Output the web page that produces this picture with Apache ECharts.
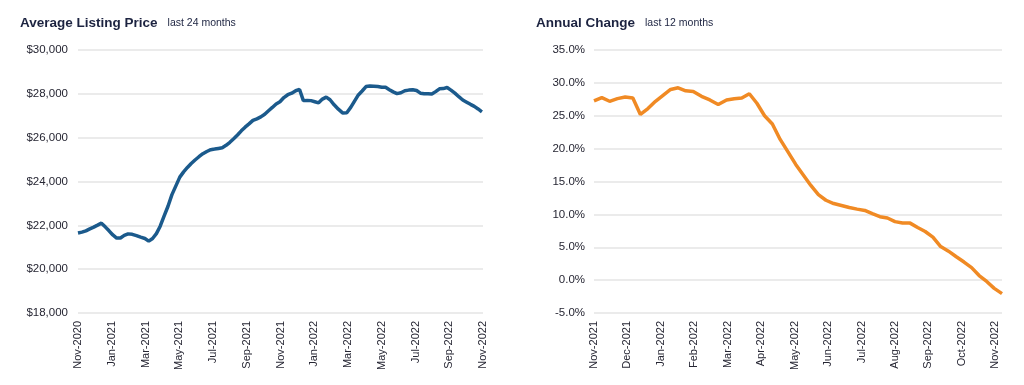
<!DOCTYPE html>
<html>
<head>
<meta charset="utf-8">
<script src="https://cdn.jsdelivr.net/npm/echarts@6/dist/echarts.min.js"></script>
<style>
html,body{margin:0;padding:0;background:#fff;}
#c{width:1024px;height:385px;}
</style>
</head>
<body>
<div id="c"></div>
<script>
// ---- data ----
const priceStart = '2020-11-01';   // weekly points
const priceValues = [
21650,21690,21750,21840,21920,22010,22100,21930,21750,21560,
21420,21420,21540,21610,21590,21530,21460,21400,21280,21400,
21620,21960,22420,22870,23400,23800,24200,24440,24640,24820,
24980,25130,25270,25370,25450,25480,25510,25540,25650,25790,
25950,26120,26310,26480,26630,26790,26860,26950,27070,27230,
27380,27540,27640,27830,27960,28030,28140,28200,27690,27700,
27690,27640,27590,27760,27850,27730,27500,27300,27130,27140,
27380,27670,27950,28130,28330,28360,28350,28330,28300,28300,
28190,28090,28010,28050,28140,28170,28190,28150,28030,28000,
28000,27990,28100,28230,28240,28290,28170,28030,27870,27720,
27620,27520,27430,27310,27180
];
const priceTicks = ['Nov-2020','Jan-2021','Mar-2021','May-2021','Jul-2021','Sep-2021','Nov-2021',
  'Jan-2022','Mar-2022','May-2022','Jul-2022','Sep-2022','Nov-2022'];

const changeStart = '2021-11-01';  // weekly points
const changeValues = [
27.25,27.75,27.2,27.6,27.85,27.7,25.2,26.1,27.2,28.1,
29.0,29.25,28.8,28.7,27.95,27.4,26.7,27.4,27.6,27.7,
28.35,26.9,25.0,23.75,21.4,19.5,17.6,16.0,14.4,13.0,
12.15,11.65,11.35,11.05,10.8,10.6,10.1,9.65,9.45,8.9,
8.7,8.67,8.0,7.4,6.55,5.1,4.4,3.55,2.75,1.9,
0.7,-0.2,-1.25,-2.05
];
const changeTicks = ['Nov-2021','Dec-2021','Jan-2022','Feb-2022','Mar-2022','Apr-2022','May-2022',
  'Jun-2022','Jul-2022','Aug-2022','Sep-2022','Oct-2022','Nov-2022'];

// ---- helpers: weekly dates -> fractional month position from start month ----
function monthPos(d, y0, m0){
  const y = d.getUTCFullYear(), m = d.getUTCMonth(), day = d.getUTCDate();
  const dim = new Date(Date.UTC(y, m+1, 0)).getUTCDate();
  return (y - y0)*12 + (m - m0) + (day-1)/dim;
}
function weeklySeries(start, values){
  const s = new Date(start + 'T00:00:00Z');
  const y0 = s.getUTCFullYear(), m0 = s.getUTCMonth();
  return values.map((v,i)=>{
    const d = new Date(s.getTime() + i*7*86400000);
    return [monthPos(d,y0,m0), v];
  });
}
const priceData = weeklySeries(priceStart, priceValues);
const changeData = weeklySeries(changeStart, changeValues);

const FONT = 'Liberation Sans, Arial, sans-serif';
const gridColor = '#e4e4e4';
const textColor = '#262633';
const titleRich = {
  a:{fontSize:13.5,fontWeight:'bold',color:'#1c2340',fontFamily:FONT},
  b:{fontSize:10.5,fontWeight:'normal',color:'#1c2340',fontFamily:FONT}
};

const chart = echarts.init(document.getElementById('c'), null, {renderer:'canvas'});
chart.setOption({
  animation:false,
  textStyle:{fontFamily:FONT},
  title:[
    {left:15, top:9, text:'{a|Average Listing Price}  {b|last 24 months}',
     textStyle:{fontWeight:'normal', rich:titleRich}},
    {left:531, top:9, text:'{a|Annual Change}  {b|last 12 months}',
     textStyle:{fontWeight:'normal', rich:titleRich}}
  ],
  grid:[
    {left:78, top:50, width:405, height:263},
    {left:594, top:50, width:408, height:263}
  ],
  xAxis:[
    {type:'value', gridIndex:0, min:0, max:24, interval:2,
     axisLine:{show:false}, axisTick:{show:false}, splitLine:{show:false},
     axisLabel:{rotate:90, margin:8, fontSize:11, color:textColor, fontFamily:FONT,
       formatter:v=> (Math.abs(v-Math.round(v))<1e-6 && Math.round(v)%2===0) ? (priceTicks[Math.round(v)/2]||'') : ''}},
    {type:'value', gridIndex:1, min:0, max:'dataMax', interval:1,
     axisLine:{show:false}, axisTick:{show:false}, splitLine:{show:false},
     axisLabel:{rotate:90, margin:8, fontSize:11, color:textColor, fontFamily:FONT, showMaxLabel:false,
       formatter:v=> (Math.abs(v-Math.round(v))<1e-6) ? (changeTicks[Math.round(v)]||'') : ''}}
  ],
  yAxis:[
    {type:'value', gridIndex:0, min:18000, max:30000, interval:2000,
     axisLine:{show:false}, axisTick:{show:false},
     splitLine:{lineStyle:{color:gridColor, width:1.5}},
     axisLabel:{margin:10, fontSize:11.5, color:textColor, fontFamily:FONT,
       formatter:v=>'$'+v.toLocaleString('en-US')}},
    {type:'value', gridIndex:1, min:-5, max:35, interval:5,
     axisLine:{show:false}, axisTick:{show:false},
     splitLine:{lineStyle:{color:gridColor, width:1.5}},
     axisLabel:{margin:9, fontSize:11.5, color:textColor, fontFamily:FONT,
       formatter:v=>v.toFixed(1)+'%'}}
  ],
  series:[
    {type:'line', xAxisIndex:0, yAxisIndex:0, data:priceData, showSymbol:false,
     lineStyle:{color:'#1b5a8c', width:3.5}, itemStyle:{color:'#1b5a8c'}},
    {type:'line', xAxisIndex:1, yAxisIndex:1, data:changeData, showSymbol:false,
     lineStyle:{color:'#f08a24', width:3.5}, itemStyle:{color:'#f08a24'}}
  ]
});
</script>
</body>
</html>
